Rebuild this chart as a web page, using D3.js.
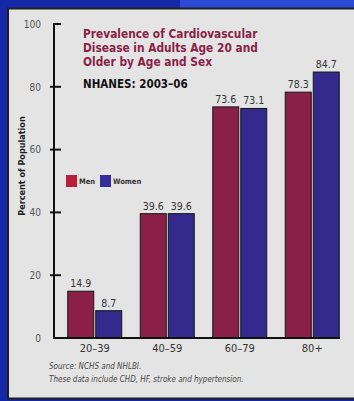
<!DOCTYPE html>
<html>
<head>
<meta charset="utf-8">
<script src="https://cdn.jsdelivr.net/npm/d3@7"></script>
<style>
  html, body { margin: 0; padding: 0; background: #1428a8; }
  svg { display: block; }
</style>
</head>
<body>
<svg id="chart" width="354" height="401"></svg>
<script>
// Prevalence of CVD by age group and sex, NHANES 2003–06
const ageGroups = ["20–39", "40–59", "60–79", "80+"];
const sexes = ["Men", "Women"];
const menValues = [14.9, 39.6, 73.6, 78.3];
const womenValues = [8.7, 39.6, 73.1, 84.7];
const yTicks = [0, 20, 40, 60, 80, 100];
const yTickLabels = ["0", "20", "40", "60", "80", "100"];
const titleLines = ["Prevalence of Cardiovascular", "Disease in Adults Age 20 and", "Older by Age and Sex"];
const subtitle = "NHANES: 2003–06";
const yAxisTitle = "Percent of Population";
const footnotes = ["Source: NCHS and NHLBI.", "These data include CHD, HF, stroke and hypertension."];

const colors = { Men: "#8a1f47", Women: "#34298c" };
const legendColors = { Men: "#b81f3c", Women: "#372c9c" };
const narrow = "'Liberation Sans Narrow', 'DejaVu Sans Condensed', 'Arial Narrow', sans-serif";

const svg = d3.select("#chart");

// blue frame and light panel
svg.append("rect").attr("width", 354).attr("height", 401).attr("fill", "#1428a8");
svg.append("rect").attr("x", 180).attr("width", 174).attr("height", 8).attr("fill", "#2a4ad6");
svg.append("rect").attr("x", 8).attr("y", 8.5).attr("width", 360).attr("height", 390)
  .attr("fill", "#e4e4e4").attr("stroke", "#1e1e1e").attr("stroke-width", 2);

const data = ageGroups.map((g, i) => ({ group: g, Men: menValues[i], Women: womenValues[i] }));

const y = d3.scaleLinear().domain([0, 100]).range([338, 24]);
const x0 = d3.scaleBand().domain(ageGroups).range([58.5, 348.5]).padding(0);
const x1 = d3.scaleBand().domain(sexes).range([9.25, 63.25]).paddingInner(2 / 28).paddingOuter(0);

// bars
const groups = svg.append("g").selectAll("g").data(data).join("g")
  .attr("transform", d => `translate(${x0(d.group)},0)`);

groups.selectAll("rect").data(d => sexes.map(s => ({ sex: s, value: d[s] }))).join("rect")
  .attr("x", d => x1(d.sex))
  .attr("y", d => y(d.value))
  .attr("width", x1.bandwidth())
  .attr("height", d => y(0) - y(d.value))
  .attr("fill", d => colors[d.sex])
  .attr("stroke", "#151515")
  .attr("stroke-width", 1);

groups.selectAll("text.val").data(d => sexes.map(s => ({ sex: s, value: d[s] }))).join("text")
  .attr("class", "val")
  .attr("x", d => x1(d.sex) + x1.bandwidth() / 2)
  .attr("y", d => y(d.value) - 4)
  .attr("text-anchor", "middle")
  .attr("font-family", narrow)
  .attr("font-size", 10.5)
  .attr("fill", "#333")
  .text(d => d.value.toFixed(1));

// y axis
const yAxis = d3.axisLeft(y).tickValues(yTicks)
  .tickFormat((d, i) => yTickLabels[i])
  .tickSize(0).tickPadding(13);
const yg = svg.append("g").attr("transform", "translate(54,0)").call(yAxis);
yg.select(".domain").remove();
yg.selectAll("text").attr("font-family", narrow).attr("font-size", 10).attr("fill", "#555");
svg.append("line").attr("x1", 54).attr("x2", 54).attr("y1", y(100) - 1).attr("y2", y(0) + 1)
  .attr("stroke", "#111").attr("stroke-width", 2);
svg.append("g").selectAll("line").data(yTicks.filter(t => t > 0)).join("line")
  .attr("x1", d => d === 100 ? 54 : 50).attr("x2", 61)
  .attr("y1", d => y(d)).attr("y2", d => y(d))
  .attr("stroke", "#111").attr("stroke-width", 2);

// x axis
const xAxis = d3.axisBottom(x0).tickSize(0).tickPadding(6);
const xg = svg.append("g").attr("transform", `translate(0,${y(0)})`).call(xAxis);
xg.select(".domain").remove();
xg.selectAll("text").attr("font-family", narrow).attr("font-size", 11).attr("fill", "#333");
svg.append("line").attr("x1", 53).attr("x2", 340).attr("y1", y(0)).attr("y2", y(0))
  .attr("stroke", "#111").attr("stroke-width", 2);

// y axis title
svg.append("text")
  .attr("transform", "translate(25,166) rotate(-90)")
  .attr("text-anchor", "middle")
  .attr("font-family", narrow).attr("font-weight", "bold").attr("font-size", 9)
  .attr("fill", "#1a1a1a")
  .text(yAxisTitle);

// title block
svg.append("text")
  .attr("font-family", narrow).attr("font-weight", "bold").attr("font-size", 11.8)
  .attr("fill", "#8a1f47")
  .selectAll("tspan").data(titleLines).join("tspan")
  .attr("x", 83).attr("y", (d, i) => 38 + i * 13.8)
  .text(d => d);
svg.append("text")
  .attr("x", 83).attr("y", 88)
  .attr("font-family", narrow).attr("font-weight", "bold").attr("font-size", 11.5)
  .attr("fill", "#111")
  .text(subtitle);

// legend
const legend = svg.append("g").attr("transform", "translate(66,175)");
const legendX = [0, 34];
sexes.forEach((s, i) => {
  legend.append("rect").attr("x", legendX[i]).attr("y", 0).attr("width", 11).attr("height", 12)
    .attr("fill", legendColors[s]);
  legend.append("text").attr("x", legendX[i] + 13).attr("y", 9)
    .attr("font-family", narrow).attr("font-size", 7.5).attr("font-weight", "bold")
    .attr("fill", "#333").text(s);
});

// footnotes
svg.append("g").selectAll("text").data(footnotes).join("text")
  .attr("x", 49).attr("y", (d, i) => 369 + i * 13)
  .attr("font-family", narrow).attr("font-style", "italic").attr("font-size", 8)
  .attr("fill", "#444")
  .text(d => d);
</script>
</body>
</html>
